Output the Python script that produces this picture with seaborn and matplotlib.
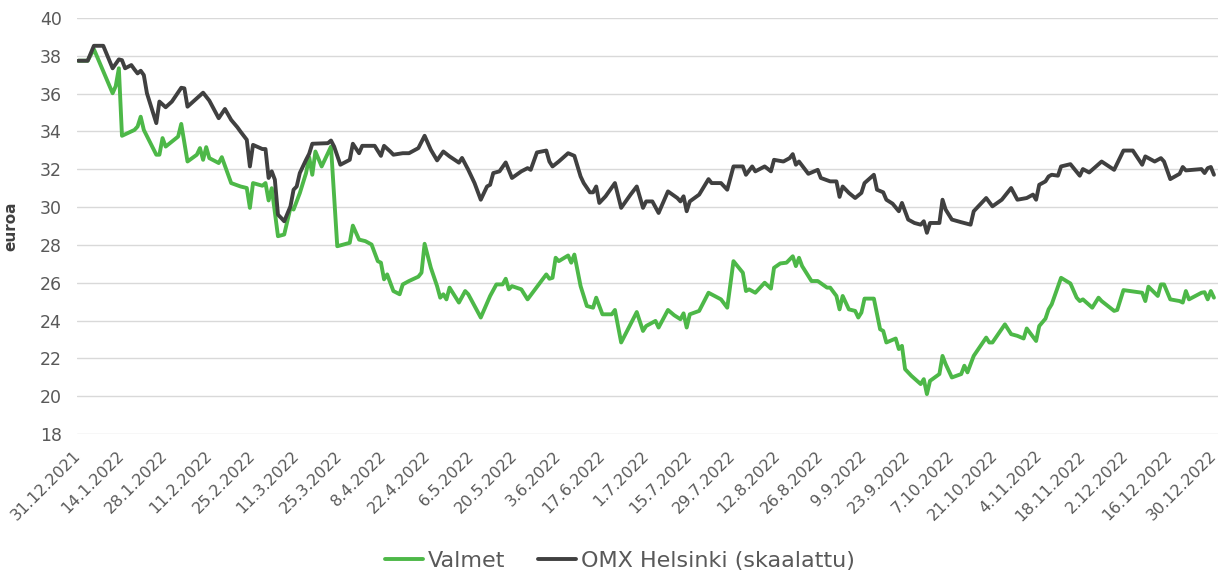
import numpy as np
import pandas as pd
import matplotlib
matplotlib.use("Agg")
import matplotlib.pyplot as plt
import seaborn as sns

# ---- data (days since 31.12.2021, values in euros) ----
omx_days = [0, 3, 5, 8, 11, 13, 14, 15, 17, 18, 19, 20, 21, 22, 25, 26, 28, 30, 33, 34, 35, 38, 40, 42, 45, 47, 49, 51,
            52, 54, 55, 56, 59, 60, 61, 62, 63, 64, 65, 66, 68, 69, 70, 71, 73, 74, 75, 80, 81, 82, 84, 87, 88, 90, 91,
            95, 97, 98, 100, 101, 104, 106, 109, 111, 113, 115, 117, 119, 122, 123, 125, 127, 129, 131, 132, 133, 135,
            137, 139, 142, 144, 145, 147, 150, 151, 152, 154, 157, 159, 161, 162, 164, 165, 166, 167, 169, 172, 174,
            177, 179, 181, 182, 184, 186, 189, 192, 193, 194, 195, 196, 199, 202, 203, 206, 208, 210, 213, 214, 216,
            217, 220, 222, 223, 226, 228, 229, 230, 231, 234, 237, 238, 241, 243, 244, 245, 247, 249, 251, 252, 255,
            256, 258, 259, 261, 263, 264, 266, 268, 270, 271, 272, 273, 276, 277, 278, 280, 283, 286, 287, 291, 293,
            296, 299, 301, 304, 306, 307, 308, 310, 311, 312, 314, 315, 318, 321, 322, 324, 328, 332, 335, 338, 341,
            342, 345, 347, 348, 350, 353, 354, 355, 360, 361, 362, 363, 364]
omx_values = [37.74, 37.74, 38.53, 38.53, 37.34, 37.81, 37.77, 37.34, 37.51, 37.28, 37.07, 37.21, 36.98, 36.02, 34.44,
              35.58, 35.28, 35.58, 36.31, 36.28, 35.31, 35.75, 36.05, 35.63, 34.70, 35.19, 34.61, 34.22, 33.99, 33.56,
              32.15, 33.29, 33.07, 33.07, 31.54, 31.89, 31.45, 29.60, 29.43, 29.25, 30.04, 30.92, 31.09, 31.80, 32.50,
              32.82, 33.35, 33.38, 33.52, 33.20, 32.24, 32.50, 33.35, 32.85, 33.24, 33.24, 32.71, 33.24, 32.94, 32.77,
              32.85, 32.85, 33.12, 33.77, 33.03, 32.47, 32.94, 32.68, 32.35, 32.60, 31.97, 31.27, 30.39, 31.09, 31.18,
              31.80, 31.89, 32.36, 31.54, 31.89, 32.06, 31.97, 32.89, 32.99, 32.41, 32.15, 32.41, 32.85, 32.71, 31.62,
              31.27, 30.78, 30.78, 31.09, 30.22, 30.57, 31.27, 29.96, 30.66, 31.09, 29.96, 30.30, 30.30, 29.69, 30.83,
              30.48, 30.30, 30.57, 29.78, 30.30, 30.66, 31.48, 31.27, 31.27, 30.92, 32.15, 32.15, 31.71, 32.15, 31.89,
              32.15, 31.89, 32.50, 32.41, 32.59, 32.80, 32.24, 32.41, 31.76, 31.97, 31.54, 31.36, 31.36, 30.54, 31.09,
              30.75, 30.48, 30.75, 31.27, 31.71, 30.92, 30.78, 30.39, 30.18, 29.78, 30.22, 29.34, 29.16, 29.07, 29.25,
              28.64, 29.16, 29.16, 30.39, 29.87, 29.34, 29.20, 29.07, 29.78, 30.48, 30.04, 30.39, 31.01, 30.39, 30.48,
              30.66, 30.39, 31.18, 31.36, 31.62, 31.71, 31.66, 32.15, 32.27, 31.66, 32.01, 31.83, 32.41, 31.97, 32.99,
              32.99, 32.24, 32.68, 32.41, 32.59, 32.41, 31.48, 31.76, 32.12, 31.94, 32.01, 31.80, 32.06, 32.12, 31.71]

valmet_days = [0, 3, 5, 11, 12, 13, 14, 18, 19, 20, 21, 25, 26, 27, 28, 32, 33, 35, 38, 39, 40, 41, 42, 45, 46, 49, 52,
               54, 55, 56, 59, 60, 61, 62, 64, 66, 68, 69, 71, 73, 74, 75, 76, 78, 79, 81, 83, 87, 88, 90, 92, 94, 96,
               97, 98, 99, 101, 103, 104, 106, 109, 110, 111, 113, 115, 116, 117, 118, 119, 122, 124, 125, 127, 129,
               132, 134, 136, 137, 138, 139, 142, 144, 148, 150, 151, 152, 153, 154, 157, 158, 159, 161, 163, 165, 166,
               168, 171, 172, 174, 179, 181, 182, 185, 186, 189, 191, 193, 194, 195, 196, 199, 202, 206, 208, 210, 213,
               214, 215, 217, 220, 222, 223, 225, 227, 229, 230, 231, 232, 235, 237, 240, 241, 243, 244, 245, 247, 249,
               250, 251, 252, 255, 257, 258, 259, 262, 263, 264, 265, 267, 270, 271, 272, 273, 276, 277, 278, 280, 283,
               284, 285, 287, 291, 292, 293, 297, 299, 301, 303, 304, 307, 308, 310, 311, 312, 315, 318, 320, 321, 322,
               325, 327, 328, 332, 333, 335, 341, 342, 343, 346, 347, 348, 350, 353, 354, 355, 356, 360, 361, 362, 363,
               364]
valmet_values = [37.74, 37.74, 38.35, 36.02, 36.40, 37.34, 33.77, 34.08, 34.26, 34.78, 34.08, 32.77, 32.77, 33.65,
                 33.20, 33.73, 34.40, 32.41, 32.77, 33.12, 32.50, 33.17, 32.59, 32.33, 32.64, 31.27, 31.09, 31.01,
                 29.96, 31.27, 31.13, 31.27, 30.35, 31.00, 28.46, 28.55, 29.96, 29.87, 30.74, 31.80, 32.64, 31.71,
                 32.94, 32.15, 32.50, 33.20, 27.93, 28.11, 29.02, 28.28, 28.20, 28.02, 27.14, 27.06, 26.18, 26.44,
                 25.56, 25.39, 25.91, 26.09, 26.32, 26.53, 28.06, 26.79, 25.82, 25.21, 25.39, 25.12, 25.74, 24.95,
                 25.56, 25.39, 24.77, 24.16, 25.30, 25.91, 25.91, 26.21, 25.65, 25.82, 25.65, 25.12, 26.00, 26.44,
                 26.21, 26.26, 27.32, 27.14, 27.44, 27.06, 27.49, 25.82, 24.77, 24.68, 25.21, 24.33, 24.33, 24.56,
                 22.84, 24.45, 23.45, 23.71, 23.98, 23.63, 24.56, 24.28, 24.07, 24.38, 23.63, 24.33, 24.51, 25.47,
                 25.12, 24.68, 27.14, 26.53, 25.56, 25.65, 25.47, 26.00, 25.69, 26.79, 27.02, 27.06, 27.40, 26.88,
                 27.32, 26.88, 26.09, 26.09, 25.74, 25.74, 25.30, 24.59, 25.30, 24.59, 24.51, 24.16, 24.42, 25.16,
                 25.16, 23.54, 23.45, 22.84, 23.05, 22.49, 22.66, 21.43, 21.08, 20.64, 20.90, 20.11, 20.81, 21.17,
                 22.13, 21.70, 20.99, 21.17, 21.61, 21.26, 22.13, 23.10, 22.84, 22.84, 23.80, 23.28, 23.19, 23.05,
                 23.58, 22.92, 23.71, 24.10, 24.59, 24.86, 26.26, 25.96, 25.21, 25.03, 25.12, 24.68, 25.21, 25.03,
                 24.51, 24.56, 25.61, 25.47, 25.03, 25.79, 25.30, 25.91, 25.91, 25.12, 25.03, 24.95, 25.56, 25.12,
                 25.47, 25.50, 25.12, 25.56, 25.21]

series_names = ["Valmet", "OMX Helsinki (skaalattu)"]
tick_labels = ["31.12.2021", "14.1.2022", "28.1.2022", "11.2.2022", "25.2.2022", "11.3.2022", "25.3.2022",
               "8.4.2022", "22.4.2022", "6.5.2022", "20.5.2022", "3.6.2022", "17.6.2022", "1.7.2022", "15.7.2022",
               "29.7.2022", "12.8.2022", "26.8.2022", "9.9.2022", "23.9.2022", "7.10.2022", "21.10.2022",
               "4.11.2022", "18.11.2022", "2.12.2022", "16.12.2022", "30.12.2022"]
y_ticks = [18, 20, 22, 24, 26, 28, 30, 32, 34, 36, 38, 40]
y_label = "euroa"

# ---- build frame ----
base = pd.Timestamp("2021-12-31")
df = pd.concat([
    pd.DataFrame({"date": base + pd.to_timedelta(valmet_days, unit="D"), "value": valmet_values,
                  "series": series_names[0]}),
    pd.DataFrame({"date": base + pd.to_timedelta(omx_days, unit="D"), "value": omx_values,
                  "series": series_names[1]}),
], ignore_index=True)

sns.set_theme(style="white")
plt.rcParams["font.family"] = ["DejaVu Sans"]

fig = plt.figure(figsize=(12.25, 5.75), dpi=100)
ax = fig.add_axes([77 / 1225, 1 - 434 / 575, 1141 / 1225, 416 / 575])

palette = {series_names[0]: "#4DB848", series_names[1]: "#404040"}
sns.lineplot(data=df, x="date", y="value", hue="series", palette=palette, linewidth=2.8, ax=ax,
             hue_order=series_names, estimator=None, sort=True)

ax.set_ylim(18, 40)
ax.set_yticks(y_ticks)
ax.grid(axis="y", color="#D9D9D9", linewidth=1.0)
ax.grid(axis="x", visible=False)
ax.set_axisbelow(True)
for s in ax.spines.values():
    s.set_visible(False)

tick_dates = pd.date_range("2021-12-31", periods=len(tick_labels), freq="14D")
ax.set_xticks(tick_dates)
ax.set_xticklabels(tick_labels, rotation=45, ha="right", va="center", rotation_mode="anchor",
                   fontsize=11.5, color="#595959")
ax.set_xlim(base - pd.Timedelta(hours=10), base + pd.Timedelta(days=365.3))
ax.tick_params(axis="x", length=0, pad=14)
ax.tick_params(axis="y", length=0, pad=11, labelsize=12.5, labelcolor="#595959")

ax.set_xlabel("")
ax.set_ylabel(y_label, fontsize=11, fontweight="bold", color="#404040")
ax.yaxis.set_label_coords(-(77 - 18) / 1141, 0.5)

handles, labels = ax.get_legend_handles_labels()
ax.legend(handles, labels, loc="center", bbox_to_anchor=(620 / 1225, 1 - 561 / 575), bbox_transform=fig.transFigure,
          ncol=2, frameon=False, fontsize=16, handlelength=1.7, handletextpad=0.2, columnspacing=1.5,
          labelcolor="#595959")

fig.savefig("out.png", dpi=100)
